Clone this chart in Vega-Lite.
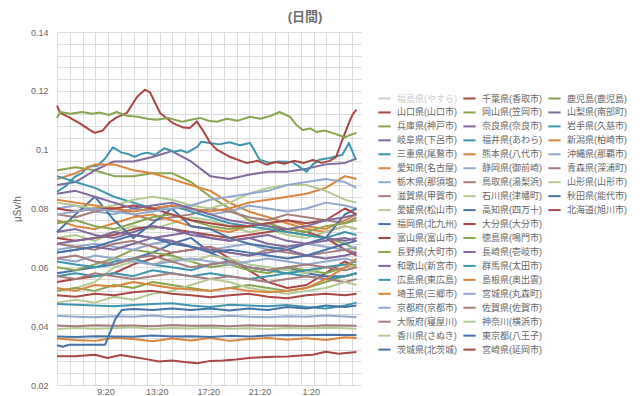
{
"$schema":"https://vega.github.io/schema/vega-lite/v6.json",
"autosize":{"type":"none"},
"padding":{"left":57,"top":32,"right":279,"bottom":11},
"width":304,"height":353,
"background":"white",
"title":{"text":"(日間)","anchor":"middle","frame":"group","dx":96,"offset":4,"fontSize":13,"fontWeight":"bold","color":"#6e6e6e"},
"config":{"view":{"stroke":null},"font":"Liberation Sans, Noto Sans CJK JP",
 "legend":{"symbolType":"stroke","symbolStrokeWidth":2,"symbolSize":150,"labelFontSize":9,"labelColor":"#666666","rowPadding":0.95,"labelOffset":5,"padding":0,"title":null}},
"datasets":{
"names":[{"k":0,"s":"福島県(やすら)"},{"k":1,"s":"山口県(山口市)"},{"k":2,"s":"兵庫県(神戸市)"},{"k":3,"s":"岐阜県(下呂市)"},{"k":4,"s":"三重県(尾鷲市)"},{"k":5,"s":"愛知県(名古屋)"},{"k":6,"s":"栃木県(那須塩)"},{"k":7,"s":"滋賀県(甲賀市)"},{"k":8,"s":"愛媛県(松山市)"},{"k":9,"s":"福岡県(北九州)"},{"k":10,"s":"富山県(富山市)"},{"k":11,"s":"長野県(大町市)"},{"k":12,"s":"和歌山(新宮市)"},{"k":13,"s":"広島県(東広島)"},{"k":14,"s":"埼玉県(三郷市)"},{"k":15,"s":"京都府(京都市)"},{"k":16,"s":"大阪府(寝屋川)"},{"k":17,"s":"香川県(さぬき)"},{"k":18,"s":"茨城県(北茨城)"},{"k":19,"s":"千葉県(香取市)"},{"k":20,"s":"岡山県(笠岡市)"},{"k":21,"s":"奈良県(奈良市)"},{"k":22,"s":"福井県(あわら)"},{"k":23,"s":"熊本県(八代市)"},{"k":24,"s":"静岡県(御前崎)"},{"k":25,"s":"鳥取県(湯梨浜)"},{"k":26,"s":"石川県(津幡町)"},{"k":27,"s":"高知県(四万十)"},{"k":28,"s":"大分県(大分市)"},{"k":29,"s":"徳島県(鳴門市)"},{"k":30,"s":"長崎県(壱岐市)"},{"k":31,"s":"群馬県(太田市)"},{"k":32,"s":"島根県(奥出雲)"},{"k":33,"s":"宮城県(丸森町)"},{"k":34,"s":"佐賀県(佐賀市)"},{"k":35,"s":"神奈川(横浜市)"},{"k":36,"s":"東京都(八王子)"},{"k":37,"s":"宮崎県(延岡市)"},{"k":38,"s":"鹿児島(鹿児島)"},{"k":39,"s":"山梨県(南部町)"},{"k":40,"s":"岩手県(久慈市)"},{"k":41,"s":"新潟県(柏崎市)"},{"k":42,"s":"沖縄県(那覇市)"},{"k":43,"s":"青森県(深浦町)"},{"k":44,"s":"山形県(山形市)"},{"k":45,"s":"秋田県(能代市)"},{"k":46,"s":"北海道(旭川市)"}],
"d":[
{"k":1,"h":5.55,"v":0.055},{"k":1,"h":7,"v":0.056},{"k":1,"h":8.5,"v":0.057},{"k":1,"h":10,"v":0.058},{"k":1,"h":11.5,"v":0.061},{"k":1,"h":13,"v":0.063},{"k":1,"h":14.5,"v":0.065},{"k":1,"h":16,"v":0.066},{"k":1,"h":17.5,"v":0.067},{"k":1,"h":19,"v":0.063},{"k":1,"h":20.5,"v":0.059},{"k":1,"h":22,"v":0.055},{"k":1,"h":23.5,"v":0.053},{"k":1,"h":25,"v":0.054},{"k":1,"h":26.5,"v":0.058},{"k":1,"h":28,"v":0.062},{"k":1,"h":28.9,"v":0.060},
{"k":2,"h":5.55,"v":0.093},{"k":2,"h":7,"v":0.094},{"k":2,"h":8.5,"v":0.093},{"k":2,"h":10,"v":0.091},{"k":2,"h":11.5,"v":0.091},{"k":2,"h":13,"v":0.092},{"k":2,"h":14.5,"v":0.092},{"k":2,"h":16,"v":0.089},{"k":2,"h":17.5,"v":0.084},{"k":2,"h":19,"v":0.080},{"k":2,"h":20.5,"v":0.076},{"k":2,"h":22,"v":0.074},{"k":2,"h":23.5,"v":0.072},{"k":2,"h":25,"v":0.071},{"k":2,"h":26.5,"v":0.070},{"k":2,"h":28,"v":0.068},{"k":2,"h":28.9,"v":0.066},
{"k":3,"h":5.55,"v":0.088},{"k":3,"h":7,"v":0.089},{"k":3,"h":8.5,"v":0.093},{"k":3,"h":10,"v":0.096},{"k":3,"h":11.5,"v":0.096},{"k":3,"h":13,"v":0.0975},{"k":3,"h":14.5,"v":0.0995},{"k":3,"h":16,"v":0.096},{"k":3,"h":17.5,"v":0.091},{"k":3,"h":19,"v":0.090},{"k":3,"h":20.5,"v":0.0915},{"k":3,"h":22,"v":0.0925},{"k":3,"h":23.5,"v":0.0925},{"k":3,"h":25,"v":0.0935},{"k":3,"h":26.5,"v":0.095},{"k":3,"h":28,"v":0.0955},{"k":3,"h":28.9,"v":0.097},
{"k":4,"h":5.55,"v":0.0857},{"k":4,"h":6.2,"v":0.0875},{"k":4,"h":6.93,"v":0.0908},{"k":4,"h":7.5,"v":0.092},{"k":4,"h":7.94,"v":0.0942},{"k":4,"h":8.7,"v":0.0945},{"k":4,"h":9.3,"v":0.097},{"k":4,"h":9.9,"v":0.1008},{"k":4,"h":10.6,"v":0.099},{"k":4,"h":11.1,"v":0.0985},{"k":4,"h":11.6,"v":0.0976},{"k":4,"h":12.1,"v":0.0985},{"k":4,"h":12.6,"v":0.099},{"k":4,"h":13.2,"v":0.0982},{"k":4,"h":13.9,"v":0.1005},{"k":4,"h":14.7,"v":0.0993},{"k":4,"h":15.2,"v":0.0998},{"k":4,"h":15.7,"v":0.099},{"k":4,"h":16.5,"v":0.101},{"k":4,"h":16.8,"v":0.1027},{"k":4,"h":17.45,"v":0.1023},{"k":4,"h":18.2,"v":0.1018},{"k":4,"h":19,"v":0.1025},{"k":4,"h":19.8,"v":0.1015},{"k":4,"h":20.6,"v":0.1023},{"k":4,"h":21.35,"v":0.0966},{"k":4,"h":22.1,"v":0.0955},{"k":4,"h":22.8,"v":0.096},{"k":4,"h":23.9,"v":0.0958},{"k":4,"h":24.5,"v":0.094},{"k":4,"h":25,"v":0.0925},{"k":4,"h":25.5,"v":0.095},{"k":4,"h":26,"v":0.0966},{"k":4,"h":26.8,"v":0.0972},{"k":4,"h":27.8,"v":0.0983},{"k":4,"h":28.3,"v":0.1023},{"k":4,"h":28.85,"v":0.0966},
{"k":5,"h":5.55,"v":0.090},{"k":5,"h":7,"v":0.092},{"k":5,"h":8.5,"v":0.095},{"k":5,"h":10,"v":0.095},{"k":5,"h":11.5,"v":0.093},{"k":5,"h":13,"v":0.092},{"k":5,"h":14.5,"v":0.090},{"k":5,"h":16,"v":0.088},{"k":5,"h":17.5,"v":0.086},{"k":5,"h":19,"v":0.082},{"k":5,"h":20.5,"v":0.079},{"k":5,"h":22,"v":0.077},{"k":5,"h":23.5,"v":0.075},{"k":5,"h":25,"v":0.073},{"k":5,"h":26.5,"v":0.072},{"k":5,"h":28,"v":0.074},{"k":5,"h":28.9,"v":0.073},
{"k":6,"h":5.55,"v":0.080},{"k":6,"h":7,"v":0.081},{"k":6,"h":8.5,"v":0.079},{"k":6,"h":10,"v":0.078},{"k":6,"h":11.5,"v":0.080},{"k":6,"h":13,"v":0.079},{"k":6,"h":14.5,"v":0.081},{"k":6,"h":16,"v":0.080},{"k":6,"h":17.5,"v":0.078},{"k":6,"h":19,"v":0.079},{"k":6,"h":20.5,"v":0.081},{"k":6,"h":22,"v":0.080},{"k":6,"h":23.5,"v":0.079},{"k":6,"h":25,"v":0.080},{"k":6,"h":26.5,"v":0.082},{"k":6,"h":28,"v":0.081},{"k":6,"h":28.9,"v":0.080},
{"k":7,"h":5.55,"v":0.078},{"k":7,"h":7,"v":0.077},{"k":7,"h":8.5,"v":0.079},{"k":7,"h":10,"v":0.080},{"k":7,"h":11.5,"v":0.078},{"k":7,"h":13,"v":0.076},{"k":7,"h":14.5,"v":0.077},{"k":7,"h":16,"v":0.078},{"k":7,"h":17.5,"v":0.080},{"k":7,"h":19,"v":0.079},{"k":7,"h":20.5,"v":0.077},{"k":7,"h":22,"v":0.076},{"k":7,"h":23.5,"v":0.078},{"k":7,"h":25,"v":0.077},{"k":7,"h":26.5,"v":0.076},{"k":7,"h":28,"v":0.075},{"k":7,"h":28.9,"v":0.077},
{"k":8,"h":5.55,"v":0.070},{"k":8,"h":7,"v":0.071},{"k":8,"h":8.5,"v":0.069},{"k":8,"h":10,"v":0.072},{"k":8,"h":11.5,"v":0.074},{"k":8,"h":13,"v":0.073},{"k":8,"h":14.5,"v":0.075},{"k":8,"h":16,"v":0.077},{"k":8,"h":17.5,"v":0.076},{"k":8,"h":19,"v":0.074},{"k":8,"h":20.5,"v":0.072},{"k":8,"h":22,"v":0.073},{"k":8,"h":23.5,"v":0.071},{"k":8,"h":25,"v":0.070},{"k":8,"h":26.5,"v":0.072},{"k":8,"h":28,"v":0.074},{"k":8,"h":28.9,"v":0.073},
{"k":9,"h":5.55,"v":0.058},{"k":9,"h":7,"v":0.059},{"k":9,"h":8.5,"v":0.060},{"k":9,"h":10,"v":0.061},{"k":9,"h":11.5,"v":0.063},{"k":9,"h":13,"v":0.065},{"k":9,"h":14.5,"v":0.068},{"k":9,"h":16,"v":0.070},{"k":9,"h":17.5,"v":0.065},{"k":9,"h":19,"v":0.062},{"k":9,"h":20.5,"v":0.060},{"k":9,"h":22,"v":0.059},{"k":9,"h":23.5,"v":0.060},{"k":9,"h":25,"v":0.058},{"k":9,"h":26.5,"v":0.057},{"k":9,"h":28,"v":0.057},{"k":9,"h":28.9,"v":0.058},
{"k":10,"h":5.55,"v":0.070},{"k":10,"h":7,"v":0.069},{"k":10,"h":8.5,"v":0.070},{"k":10,"h":10,"v":0.071},{"k":10,"h":11.5,"v":0.073},{"k":10,"h":13,"v":0.074},{"k":10,"h":14.5,"v":0.073},{"k":10,"h":16,"v":0.072},{"k":10,"h":17.5,"v":0.071},{"k":10,"h":19,"v":0.070},{"k":10,"h":20.5,"v":0.071},{"k":10,"h":22,"v":0.072},{"k":10,"h":23.5,"v":0.073},{"k":10,"h":25,"v":0.072},{"k":10,"h":26.5,"v":0.070},{"k":10,"h":28,"v":0.066},{"k":10,"h":28.9,"v":0.064},
{"k":11,"h":5.55,"v":0.060},{"k":11,"h":7,"v":0.059},{"k":11,"h":8.5,"v":0.061},{"k":11,"h":10,"v":0.063},{"k":11,"h":11.5,"v":0.066},{"k":11,"h":13,"v":0.065},{"k":11,"h":14.5,"v":0.064},{"k":11,"h":16,"v":0.062},{"k":11,"h":17.5,"v":0.060},{"k":11,"h":19,"v":0.061},{"k":11,"h":20.5,"v":0.059},{"k":11,"h":22,"v":0.058},{"k":11,"h":23.5,"v":0.060},{"k":11,"h":25,"v":0.059},{"k":11,"h":26.5,"v":0.058},{"k":11,"h":28,"v":0.060},{"k":11,"h":28.9,"v":0.061},
{"k":12,"h":5.55,"v":0.072},{"k":12,"h":7,"v":0.073},{"k":12,"h":8.5,"v":0.071},{"k":12,"h":10,"v":0.070},{"k":12,"h":11.5,"v":0.072},{"k":12,"h":13,"v":0.074},{"k":12,"h":14.5,"v":0.073},{"k":12,"h":16,"v":0.071},{"k":12,"h":17.5,"v":0.070},{"k":12,"h":19,"v":0.069},{"k":12,"h":20.5,"v":0.070},{"k":12,"h":22,"v":0.071},{"k":12,"h":23.5,"v":0.069},{"k":12,"h":25,"v":0.068},{"k":12,"h":26.5,"v":0.070},{"k":12,"h":28,"v":0.069},{"k":12,"h":28.9,"v":0.070},
{"k":13,"h":5.55,"v":0.091},{"k":13,"h":7,"v":0.089},{"k":13,"h":8.5,"v":0.087},{"k":13,"h":10,"v":0.084},{"k":13,"h":11.5,"v":0.082},{"k":13,"h":13,"v":0.080},{"k":13,"h":14.5,"v":0.081},{"k":13,"h":16,"v":0.079},{"k":13,"h":17.5,"v":0.077},{"k":13,"h":19,"v":0.075},{"k":13,"h":20.5,"v":0.074},{"k":13,"h":22,"v":0.073},{"k":13,"h":23.5,"v":0.072},{"k":13,"h":25,"v":0.071},{"k":13,"h":26.5,"v":0.070},{"k":13,"h":28,"v":0.072},{"k":13,"h":28.9,"v":0.071},
{"k":14,"h":5.55,"v":0.076},{"k":14,"h":7,"v":0.074},{"k":14,"h":8.5,"v":0.073},{"k":14,"h":10,"v":0.075},{"k":14,"h":11.5,"v":0.077},{"k":14,"h":13,"v":0.078},{"k":14,"h":14.5,"v":0.076},{"k":14,"h":16,"v":0.074},{"k":14,"h":17.5,"v":0.073},{"k":14,"h":19,"v":0.072},{"k":14,"h":20.5,"v":0.074},{"k":14,"h":22,"v":0.075},{"k":14,"h":23.5,"v":0.076},{"k":14,"h":25,"v":0.074},{"k":14,"h":26.5,"v":0.073},{"k":14,"h":28,"v":0.076},{"k":14,"h":28.9,"v":0.078},
{"k":15,"h":5.55,"v":0.066},{"k":15,"h":7,"v":0.067},{"k":15,"h":8.5,"v":0.068},{"k":15,"h":10,"v":0.067},{"k":15,"h":11.5,"v":0.066},{"k":15,"h":13,"v":0.068},{"k":15,"h":14.5,"v":0.069},{"k":15,"h":16,"v":0.067},{"k":15,"h":17.5,"v":0.066},{"k":15,"h":19,"v":0.067},{"k":15,"h":20.5,"v":0.068},{"k":15,"h":22,"v":0.066},{"k":15,"h":23.5,"v":0.067},{"k":15,"h":25,"v":0.068},{"k":15,"h":26.5,"v":0.067},{"k":15,"h":28,"v":0.066},{"k":15,"h":28.9,"v":0.067},
{"k":16,"h":5.55,"v":0.068},{"k":16,"h":7,"v":0.067},{"k":16,"h":8.5,"v":0.066},{"k":16,"h":10,"v":0.068},{"k":16,"h":11.5,"v":0.069},{"k":16,"h":13,"v":0.067},{"k":16,"h":14.5,"v":0.065},{"k":16,"h":16,"v":0.066},{"k":16,"h":17.5,"v":0.067},{"k":16,"h":19,"v":0.065},{"k":16,"h":20.5,"v":0.064},{"k":16,"h":22,"v":0.066},{"k":16,"h":23.5,"v":0.065},{"k":16,"h":25,"v":0.064},{"k":16,"h":26.5,"v":0.065},{"k":16,"h":28,"v":0.066},{"k":16,"h":28.9,"v":0.065},
{"k":17,"h":5.55,"v":0.052},{"k":17,"h":7,"v":0.053},{"k":17,"h":8.5,"v":0.055},{"k":17,"h":10,"v":0.060},{"k":17,"h":11.5,"v":0.062},{"k":17,"h":13,"v":0.061},{"k":17,"h":14.5,"v":0.063},{"k":17,"h":16,"v":0.062},{"k":17,"h":17.5,"v":0.064},{"k":17,"h":19,"v":0.063},{"k":17,"h":20.5,"v":0.061},{"k":17,"h":22,"v":0.060},{"k":17,"h":23.5,"v":0.059},{"k":17,"h":25,"v":0.058},{"k":17,"h":26.5,"v":0.060},{"k":17,"h":28,"v":0.061},{"k":17,"h":28.9,"v":0.060},
{"k":18,"h":5.55,"v":0.072},{"k":18,"h":7,"v":0.078},{"k":18,"h":8.5,"v":0.084},{"k":18,"h":10,"v":0.076},{"k":18,"h":11.5,"v":0.070},{"k":18,"h":13,"v":0.075},{"k":18,"h":14.5,"v":0.080},{"k":18,"h":16,"v":0.074},{"k":18,"h":17.5,"v":0.073},{"k":18,"h":19,"v":0.070},{"k":18,"h":20.5,"v":0.068},{"k":18,"h":22,"v":0.067},{"k":18,"h":23.5,"v":0.066},{"k":18,"h":25,"v":0.068},{"k":18,"h":26.5,"v":0.070},{"k":18,"h":28,"v":0.078},{"k":18,"h":28.9,"v":0.080},
{"k":19,"h":5.55,"v":0.115},{"k":19,"h":5.8,"v":0.1125},{"k":19,"h":6.5,"v":0.111},{"k":19,"h":7.3,"v":0.109},{"k":19,"h":8.1,"v":0.1067},{"k":19,"h":8.5,"v":0.1057},{"k":19,"h":9.1,"v":0.1065},{"k":19,"h":9.7,"v":0.1095},{"k":19,"h":10.2,"v":0.111},{"k":19,"h":11,"v":0.1125},{"k":19,"h":11.8,"v":0.118},{"k":19,"h":12.4,"v":0.1204},{"k":19,"h":12.8,"v":0.1195},{"k":19,"h":13.6,"v":0.1124},{"k":19,"h":14.6,"v":0.109},{"k":19,"h":15.4,"v":0.1075},{"k":19,"h":15.9,"v":0.1074},{"k":19,"h":16.45,"v":0.1096},{"k":19,"h":17,"v":0.106},{"k":19,"h":17.5,"v":0.1023},{"k":19,"h":18,"v":0.100},{"k":19,"h":19,"v":0.0976},{"k":19,"h":20.3,"v":0.0955},{"k":19,"h":21.2,"v":0.0962},{"k":19,"h":21.9,"v":0.0949},{"k":19,"h":22.6,"v":0.0958},{"k":19,"h":23.3,"v":0.0952},{"k":19,"h":24,"v":0.0962},{"k":19,"h":24.8,"v":0.0955},{"k":19,"h":25.5,"v":0.0965},{"k":19,"h":26.2,"v":0.0955},{"k":19,"h":26.8,"v":0.0962},{"k":19,"h":27.3,"v":0.0975},{"k":19,"h":27.8,"v":0.1033},{"k":19,"h":28.3,"v":0.109},{"k":19,"h":28.6,"v":0.112},{"k":19,"h":28.9,"v":0.1136},
{"k":20,"h":5.55,"v":0.075},{"k":20,"h":7,"v":0.076},{"k":20,"h":8.5,"v":0.074},{"k":20,"h":10,"v":0.073},{"k":20,"h":11.5,"v":0.075},{"k":20,"h":13,"v":0.077},{"k":20,"h":14.5,"v":0.078},{"k":20,"h":16,"v":0.076},{"k":20,"h":17.5,"v":0.074},{"k":20,"h":19,"v":0.073},{"k":20,"h":20.5,"v":0.074},{"k":20,"h":22,"v":0.075},{"k":20,"h":23.5,"v":0.073},{"k":20,"h":25,"v":0.072},{"k":20,"h":26.5,"v":0.074},{"k":20,"h":28,"v":0.075},{"k":20,"h":28.9,"v":0.076},
{"k":21,"h":5.55,"v":0.065},{"k":21,"h":7,"v":0.066},{"k":21,"h":8.5,"v":0.067},{"k":21,"h":10,"v":0.066},{"k":21,"h":11.5,"v":0.068},{"k":21,"h":13,"v":0.070},{"k":21,"h":14.5,"v":0.069},{"k":21,"h":16,"v":0.067},{"k":21,"h":17.5,"v":0.066},{"k":21,"h":19,"v":0.065},{"k":21,"h":20.5,"v":0.064},{"k":21,"h":22,"v":0.065},{"k":21,"h":23.5,"v":0.066},{"k":21,"h":25,"v":0.064},{"k":21,"h":26.5,"v":0.063},{"k":21,"h":28,"v":0.064},{"k":21,"h":28.9,"v":0.065},
{"k":22,"h":5.55,"v":0.062},{"k":22,"h":7,"v":0.061},{"k":22,"h":8.5,"v":0.060},{"k":22,"h":10,"v":0.062},{"k":22,"h":11.5,"v":0.063},{"k":22,"h":13,"v":0.061},{"k":22,"h":14.5,"v":0.060},{"k":22,"h":16,"v":0.059},{"k":22,"h":17.5,"v":0.061},{"k":22,"h":19,"v":0.062},{"k":22,"h":20.5,"v":0.060},{"k":22,"h":22,"v":0.059},{"k":22,"h":23.5,"v":0.058},{"k":22,"h":25,"v":0.059},{"k":22,"h":26.5,"v":0.060},{"k":22,"h":28,"v":0.061},{"k":22,"h":28.9,"v":0.062},
{"k":23,"h":5.55,"v":0.083},{"k":23,"h":7,"v":0.082},{"k":23,"h":8.5,"v":0.081},{"k":23,"h":10,"v":0.080},{"k":23,"h":11.5,"v":0.079},{"k":23,"h":13,"v":0.080},{"k":23,"h":14.5,"v":0.081},{"k":23,"h":16,"v":0.080},{"k":23,"h":17.5,"v":0.079},{"k":23,"h":19,"v":0.080},{"k":23,"h":20.5,"v":0.082},{"k":23,"h":22,"v":0.083},{"k":23,"h":23.5,"v":0.084},{"k":23,"h":25,"v":0.085},{"k":23,"h":26.5,"v":0.087},{"k":23,"h":28,"v":0.091},{"k":23,"h":28.9,"v":0.090},
{"k":24,"h":5.55,"v":0.063},{"k":24,"h":7,"v":0.062},{"k":24,"h":8.5,"v":0.064},{"k":24,"h":10,"v":0.063},{"k":24,"h":11.5,"v":0.062},{"k":24,"h":13,"v":0.061},{"k":24,"h":14.5,"v":0.062},{"k":24,"h":16,"v":0.063},{"k":24,"h":17.5,"v":0.062},{"k":24,"h":19,"v":0.061},{"k":24,"h":20.5,"v":0.062},{"k":24,"h":22,"v":0.063},{"k":24,"h":23.5,"v":0.062},{"k":24,"h":25,"v":0.061},{"k":24,"h":26.5,"v":0.062},{"k":24,"h":28,"v":0.063},{"k":24,"h":28.9,"v":0.062},
{"k":25,"h":5.55,"v":0.063},{"k":25,"h":7,"v":0.064},{"k":25,"h":8.5,"v":0.062},{"k":25,"h":10,"v":0.061},{"k":25,"h":11.5,"v":0.063},{"k":25,"h":13,"v":0.064},{"k":25,"h":14.5,"v":0.062},{"k":25,"h":16,"v":0.060},{"k":25,"h":17.5,"v":0.061},{"k":25,"h":19,"v":0.062},{"k":25,"h":20.5,"v":0.060},{"k":25,"h":22,"v":0.059},{"k":25,"h":23.5,"v":0.060},{"k":25,"h":25,"v":0.061},{"k":25,"h":26.5,"v":0.060},{"k":25,"h":28,"v":0.059},{"k":25,"h":28.9,"v":0.060},
{"k":26,"h":5.55,"v":0.082},{"k":26,"h":7,"v":0.081},{"k":26,"h":8.5,"v":0.080},{"k":26,"h":10,"v":0.081},{"k":26,"h":11.5,"v":0.083},{"k":26,"h":13,"v":0.084},{"k":26,"h":14.5,"v":0.083},{"k":26,"h":16,"v":0.081},{"k":26,"h":17.5,"v":0.080},{"k":26,"h":19,"v":0.082},{"k":26,"h":20.5,"v":0.085},{"k":26,"h":22,"v":0.087},{"k":26,"h":23.5,"v":0.088},{"k":26,"h":25,"v":0.088},{"k":26,"h":26.5,"v":0.086},{"k":26,"h":28,"v":0.083},{"k":26,"h":28.9,"v":0.082},
{"k":27,"h":5.55,"v":0.065},{"k":27,"h":7,"v":0.066},{"k":27,"h":8.5,"v":0.067},{"k":27,"h":10,"v":0.069},{"k":27,"h":11.5,"v":0.071},{"k":27,"h":13,"v":0.070},{"k":27,"h":14.5,"v":0.068},{"k":27,"h":16,"v":0.067},{"k":27,"h":17.5,"v":0.065},{"k":27,"h":19,"v":0.066},{"k":27,"h":20.5,"v":0.065},{"k":27,"h":22,"v":0.064},{"k":27,"h":23.5,"v":0.063},{"k":27,"h":25,"v":0.064},{"k":27,"h":26.5,"v":0.066},{"k":27,"h":28,"v":0.068},{"k":27,"h":28.9,"v":0.069},
{"k":28,"h":5.55,"v":0.080},{"k":28,"h":7,"v":0.079},{"k":28,"h":8.5,"v":0.080},{"k":28,"h":10,"v":0.080},{"k":28,"h":11.5,"v":0.081},{"k":28,"h":13,"v":0.080},{"k":28,"h":14.5,"v":0.078},{"k":28,"h":16,"v":0.076},{"k":28,"h":17.5,"v":0.075},{"k":28,"h":19,"v":0.074},{"k":28,"h":20.5,"v":0.074},{"k":28,"h":22,"v":0.075},{"k":28,"h":23.5,"v":0.076},{"k":28,"h":25,"v":0.075},{"k":28,"h":26.5,"v":0.076},{"k":28,"h":28,"v":0.080},{"k":28,"h":28.9,"v":0.078},
{"k":29,"h":5.55,"v":0.052},{"k":29,"h":7,"v":0.053},{"k":29,"h":8.5,"v":0.052},{"k":29,"h":10,"v":0.054},{"k":29,"h":11.5,"v":0.053},{"k":29,"h":13,"v":0.055},{"k":29,"h":14.5,"v":0.054},{"k":29,"h":16,"v":0.053},{"k":29,"h":17.5,"v":0.052},{"k":29,"h":19,"v":0.053},{"k":29,"h":20.5,"v":0.054},{"k":29,"h":22,"v":0.053},{"k":29,"h":23.5,"v":0.052},{"k":29,"h":25,"v":0.053},{"k":29,"h":26.5,"v":0.055},{"k":29,"h":28,"v":0.057},{"k":29,"h":28.9,"v":0.058},
{"k":30,"h":5.55,"v":0.068},{"k":30,"h":7,"v":0.069},{"k":30,"h":8.5,"v":0.070},{"k":30,"h":10,"v":0.072},{"k":30,"h":11.5,"v":0.071},{"k":30,"h":13,"v":0.070},{"k":30,"h":14.5,"v":0.071},{"k":30,"h":16,"v":0.072},{"k":30,"h":17.5,"v":0.070},{"k":30,"h":19,"v":0.069},{"k":30,"h":20.5,"v":0.070},{"k":30,"h":22,"v":0.068},{"k":30,"h":23.5,"v":0.067},{"k":30,"h":25,"v":0.068},{"k":30,"h":26.5,"v":0.069},{"k":30,"h":28,"v":0.070},{"k":30,"h":28.9,"v":0.069},
{"k":31,"h":5.55,"v":0.057},{"k":31,"h":7,"v":0.058},{"k":31,"h":8.5,"v":0.057},{"k":31,"h":10,"v":0.058},{"k":31,"h":11.5,"v":0.057},{"k":31,"h":13,"v":0.059},{"k":31,"h":14.5,"v":0.058},{"k":31,"h":16,"v":0.057},{"k":31,"h":17.5,"v":0.058},{"k":31,"h":19,"v":0.057},{"k":31,"h":20.5,"v":0.056},{"k":31,"h":22,"v":0.057},{"k":31,"h":23.5,"v":0.058},{"k":31,"h":25,"v":0.057},{"k":31,"h":26.5,"v":0.056},{"k":31,"h":28,"v":0.057},{"k":31,"h":28.9,"v":0.058},
{"k":32,"h":5.55,"v":0.0358},{"k":32,"h":7,"v":0.0353},{"k":32,"h":8.5,"v":0.035},{"k":32,"h":10,"v":0.036},{"k":32,"h":11.5,"v":0.0356},{"k":32,"h":13,"v":0.0349},{"k":32,"h":14.5,"v":0.0358},{"k":32,"h":16,"v":0.0351},{"k":32,"h":17.5,"v":0.036},{"k":32,"h":19,"v":0.035},{"k":32,"h":20.5,"v":0.0356},{"k":32,"h":22,"v":0.036},{"k":32,"h":23.5,"v":0.0354},{"k":32,"h":25,"v":0.0359},{"k":32,"h":26.5,"v":0.0353},{"k":32,"h":28,"v":0.0362},{"k":32,"h":28.9,"v":0.036},
{"k":33,"h":5.55,"v":0.078},{"k":33,"h":7,"v":0.079},{"k":33,"h":8.5,"v":0.080},{"k":33,"h":10,"v":0.079},{"k":33,"h":11.5,"v":0.078},{"k":33,"h":13,"v":0.079},{"k":33,"h":14.5,"v":0.080},{"k":33,"h":16,"v":0.081},{"k":33,"h":17.5,"v":0.083},{"k":33,"h":19,"v":0.084},{"k":33,"h":20.5,"v":0.085},{"k":33,"h":22,"v":0.086},{"k":33,"h":23.5,"v":0.088},{"k":33,"h":25,"v":0.089},{"k":33,"h":26.5,"v":0.090},{"k":33,"h":28,"v":0.089},{"k":33,"h":28.9,"v":0.087},
{"k":34,"h":5.55,"v":0.057},{"k":34,"h":7,"v":0.056},{"k":34,"h":8.5,"v":0.058},{"k":34,"h":10,"v":0.057},{"k":34,"h":11.5,"v":0.056},{"k":34,"h":13,"v":0.057},{"k":34,"h":14.5,"v":0.058},{"k":34,"h":16,"v":0.057},{"k":34,"h":17.5,"v":0.056},{"k":34,"h":19,"v":0.057},{"k":34,"h":20.5,"v":0.056},{"k":34,"h":22,"v":0.055},{"k":34,"h":23.5,"v":0.056},{"k":34,"h":25,"v":0.057},{"k":34,"h":26.5,"v":0.056},{"k":34,"h":28,"v":0.055},{"k":34,"h":28.9,"v":0.056},
{"k":35,"h":5.55,"v":0.048},{"k":35,"h":7,"v":0.049},{"k":35,"h":8.5,"v":0.048},{"k":35,"h":10,"v":0.050},{"k":35,"h":11.5,"v":0.049},{"k":35,"h":13,"v":0.051},{"k":35,"h":14.5,"v":0.052},{"k":35,"h":16,"v":0.054},{"k":35,"h":17.5,"v":0.056},{"k":35,"h":19,"v":0.055},{"k":35,"h":20.5,"v":0.053},{"k":35,"h":22,"v":0.052},{"k":35,"h":23.5,"v":0.051},{"k":35,"h":25,"v":0.052},{"k":35,"h":26.5,"v":0.053},{"k":35,"h":28,"v":0.055},{"k":35,"h":28.9,"v":0.054},
{"k":36,"h":5.55,"v":0.0365},{"k":36,"h":7,"v":0.0363},{"k":36,"h":8.5,"v":0.0366},{"k":36,"h":10,"v":0.0365},{"k":36,"h":11.5,"v":0.0364},{"k":36,"h":13,"v":0.0368},{"k":36,"h":14.5,"v":0.0365},{"k":36,"h":16,"v":0.0366},{"k":36,"h":17.5,"v":0.0363},{"k":36,"h":19,"v":0.0367},{"k":36,"h":20.5,"v":0.0365},{"k":36,"h":22,"v":0.0368},{"k":36,"h":23.5,"v":0.037},{"k":36,"h":25,"v":0.0369},{"k":36,"h":26.5,"v":0.0371},{"k":36,"h":28,"v":0.037},{"k":36,"h":28.9,"v":0.037},
{"k":37,"h":5.55,"v":0.0505},{"k":37,"h":7,"v":0.050},{"k":37,"h":8.5,"v":0.051},{"k":37,"h":10,"v":0.0505},{"k":37,"h":11.5,"v":0.0515},{"k":37,"h":13,"v":0.052},{"k":37,"h":14.5,"v":0.051},{"k":37,"h":16,"v":0.0505},{"k":37,"h":17.5,"v":0.0498},{"k":37,"h":19,"v":0.0505},{"k":37,"h":20.5,"v":0.051},{"k":37,"h":22,"v":0.050},{"k":37,"h":23.5,"v":0.0495},{"k":37,"h":25,"v":0.0505},{"k":37,"h":26.5,"v":0.051},{"k":37,"h":28,"v":0.0505},{"k":37,"h":28.9,"v":0.051},
{"k":38,"h":5.55,"v":0.1108},{"k":38,"h":5.8,"v":0.1128},{"k":38,"h":6.6,"v":0.1122},{"k":38,"h":7.5,"v":0.1128},{"k":38,"h":8.3,"v":0.1122},{"k":38,"h":8.9,"v":0.1126},{"k":38,"h":9.6,"v":0.1118},{"k":38,"h":10.2,"v":0.1128},{"k":38,"h":11,"v":0.1115},{"k":38,"h":11.8,"v":0.1112},{"k":38,"h":12.6,"v":0.1105},{"k":38,"h":13.3,"v":0.1102},{"k":38,"h":14.2,"v":0.1108},{"k":38,"h":15.3,"v":0.1095},{"k":38,"h":16,"v":0.1102},{"k":38,"h":16.7,"v":0.1108},{"k":38,"h":17.4,"v":0.1098},{"k":38,"h":18,"v":0.1095},{"k":38,"h":18.8,"v":0.1105},{"k":38,"h":19.6,"v":0.1098},{"k":38,"h":20.6,"v":0.1112},{"k":38,"h":21.4,"v":0.1105},{"k":38,"h":22.2,"v":0.1115},{"k":38,"h":22.9,"v":0.1128},{"k":38,"h":23.7,"v":0.1112},{"k":38,"h":24.2,"v":0.1085},{"k":38,"h":24.7,"v":0.1067},{"k":38,"h":25.3,"v":0.1072},{"k":38,"h":25.8,"v":0.106},{"k":38,"h":26.4,"v":0.1065},{"k":38,"h":27,"v":0.1057},{"k":38,"h":27.6,"v":0.1048},{"k":38,"h":28,"v":0.1042},{"k":38,"h":28.4,"v":0.105},{"k":38,"h":28.9,"v":0.1057},
{"k":39,"h":5.55,"v":0.085},{"k":39,"h":7,"v":0.086},{"k":39,"h":8.5,"v":0.084},{"k":39,"h":10,"v":0.082},{"k":39,"h":11.5,"v":0.080},{"k":39,"h":13,"v":0.081},{"k":39,"h":14.5,"v":0.082},{"k":39,"h":16,"v":0.080},{"k":39,"h":17.5,"v":0.078},{"k":39,"h":19,"v":0.076},{"k":39,"h":20.5,"v":0.075},{"k":39,"h":22,"v":0.074},{"k":39,"h":23.5,"v":0.073},{"k":39,"h":25,"v":0.074},{"k":39,"h":26.5,"v":0.076},{"k":39,"h":28,"v":0.077},{"k":39,"h":28.9,"v":0.078},
{"k":40,"h":5.55,"v":0.0475},{"k":40,"h":7,"v":0.0473},{"k":40,"h":8.5,"v":0.047},{"k":40,"h":10,"v":0.0468},{"k":40,"h":11.5,"v":0.0472},{"k":40,"h":13,"v":0.0475},{"k":40,"h":14.5,"v":0.0478},{"k":40,"h":16,"v":0.047},{"k":40,"h":17.5,"v":0.0465},{"k":40,"h":19,"v":0.0473},{"k":40,"h":20.5,"v":0.047},{"k":40,"h":22,"v":0.0468},{"k":40,"h":23.5,"v":0.0472},{"k":40,"h":25,"v":0.0465},{"k":40,"h":26.5,"v":0.046},{"k":40,"h":28,"v":0.047},{"k":40,"h":28.9,"v":0.048},
{"k":41,"h":5.55,"v":0.053},{"k":41,"h":7,"v":0.052},{"k":41,"h":8.5,"v":0.054},{"k":41,"h":10,"v":0.0535},{"k":41,"h":11.5,"v":0.055},{"k":41,"h":13,"v":0.054},{"k":41,"h":14.5,"v":0.053},{"k":41,"h":16,"v":0.0525},{"k":41,"h":17.5,"v":0.052},{"k":41,"h":19,"v":0.053},{"k":41,"h":20.5,"v":0.052},{"k":41,"h":22,"v":0.0515},{"k":41,"h":23.5,"v":0.052},{"k":41,"h":25,"v":0.053},{"k":41,"h":26.5,"v":0.056},{"k":41,"h":28,"v":0.060},{"k":41,"h":28.9,"v":0.063},
{"k":42,"h":5.55,"v":0.0435},{"k":42,"h":7,"v":0.0432},{"k":42,"h":8.5,"v":0.043},{"k":42,"h":10,"v":0.0434},{"k":42,"h":11.5,"v":0.0432},{"k":42,"h":13,"v":0.0436},{"k":42,"h":14.5,"v":0.043},{"k":42,"h":16,"v":0.0433},{"k":42,"h":17.5,"v":0.0431},{"k":42,"h":19,"v":0.0435},{"k":42,"h":20.5,"v":0.0432},{"k":42,"h":22,"v":0.043},{"k":42,"h":23.5,"v":0.0434},{"k":42,"h":25,"v":0.0432},{"k":42,"h":26.5,"v":0.0436},{"k":42,"h":28,"v":0.0433},{"k":42,"h":28.9,"v":0.043},
{"k":43,"h":5.55,"v":0.0402},{"k":43,"h":7,"v":0.040},{"k":43,"h":8.5,"v":0.0403},{"k":43,"h":10,"v":0.0401},{"k":43,"h":11.5,"v":0.0402},{"k":43,"h":13,"v":0.040},{"k":43,"h":14.5,"v":0.0404},{"k":43,"h":16,"v":0.0401},{"k":43,"h":17.5,"v":0.0402},{"k":43,"h":19,"v":0.040},{"k":43,"h":20.5,"v":0.0403},{"k":43,"h":22,"v":0.0401},{"k":43,"h":23.5,"v":0.0402},{"k":43,"h":25,"v":0.040},{"k":43,"h":26.5,"v":0.0403},{"k":43,"h":28,"v":0.0402},{"k":43,"h":28.9,"v":0.0401},
{"k":44,"h":5.55,"v":0.039},{"k":44,"h":7,"v":0.0394},{"k":44,"h":8.5,"v":0.0391},{"k":44,"h":10,"v":0.0393},{"k":44,"h":11.5,"v":0.0396},{"k":44,"h":13,"v":0.039},{"k":44,"h":14.5,"v":0.0394},{"k":44,"h":16,"v":0.0392},{"k":44,"h":17.5,"v":0.0395},{"k":44,"h":19,"v":0.0391},{"k":44,"h":20.5,"v":0.0393},{"k":44,"h":22,"v":0.039},{"k":44,"h":23.5,"v":0.0394},{"k":44,"h":25,"v":0.0392},{"k":44,"h":26.5,"v":0.0395},{"k":44,"h":28,"v":0.0393},{"k":44,"h":28.9,"v":0.0391},
{"k":45,"h":5.55,"v":0.0335},{"k":45,"h":6,"v":0.033},{"k":45,"h":6.5,"v":0.0337},{"k":45,"h":8,"v":0.0337},{"k":45,"h":9.3,"v":0.0337},{"k":45,"h":9.7,"v":0.038},{"k":45,"h":10.1,"v":0.0425},{"k":45,"h":10.6,"v":0.0455},{"k":45,"h":11.5,"v":0.0458},{"k":45,"h":13,"v":0.0455},{"k":45,"h":14.5,"v":0.046},{"k":45,"h":16,"v":0.0455},{"k":45,"h":17.5,"v":0.046},{"k":45,"h":19,"v":0.0453},{"k":45,"h":20.5,"v":0.046},{"k":45,"h":22,"v":0.0455},{"k":45,"h":23.5,"v":0.0465},{"k":45,"h":25,"v":0.046},{"k":45,"h":26.5,"v":0.047},{"k":45,"h":28,"v":0.0465},{"k":45,"h":28.9,"v":0.047},
{"k":46,"h":5.55,"v":0.0298},{"k":46,"h":7,"v":0.0298},{"k":46,"h":8.5,"v":0.0303},{"k":46,"h":9.5,"v":0.0292},{"k":46,"h":10.5,"v":0.0302},{"k":46,"h":11.5,"v":0.0295},{"k":46,"h":12.5,"v":0.0288},{"k":46,"h":13.5,"v":0.028},{"k":46,"h":14.5,"v":0.0283},{"k":46,"h":15.5,"v":0.0278},{"k":46,"h":16.5,"v":0.0274},{"k":46,"h":17.5,"v":0.0282},{"k":46,"h":18.5,"v":0.0283},{"k":46,"h":19.5,"v":0.0287},{"k":46,"h":20.5,"v":0.0292},{"k":46,"h":21.5,"v":0.0294},{"k":46,"h":22.5,"v":0.0296},{"k":46,"h":23.5,"v":0.0297},{"k":46,"h":24.5,"v":0.030},{"k":46,"h":25.5,"v":0.0303},{"k":46,"h":26.5,"v":0.0313},{"k":46,"h":27.5,"v":0.0306},{"k":46,"h":28.9,"v":0.0312}
]},
"data":{"name":"d"},
"transform":[{"lookup":"k","from":{"data":{"name":"names"},"key":"k","fields":["s"]}}],
"layer":[
{"transform":[{"filter":"datum.k <= 18"}],
 "mark":{"type":"line","strokeWidth":2,"strokeJoin":"round"},
 "encoding":{
  "x":{"field":"h","type":"quantitative","scale":{"domain":[5.55,29.25],"nice":false,"zero":false},
   "axis":{"orient":"bottom","values":[5.55,6.55,7.55,8.55,9.55,10.55,11.55,12.55,13.55,14.55,15.55,16.55,17.55,18.55,19.55,20.55,21.55,22.55,23.55,24.55,25.55,26.55,27.55,28.55],"labels":false,"ticks":false,"domain":false,"grid":true,"gridColor":"#dcdcdc","gridWidth":1,"title":null}},
  "y":{"field":"v","type":"quantitative","scale":{"domain":[0.02,0.14],"nice":false,"zero":false},
   "axis":{"values":[0.02,0.024,0.028,0.032,0.036,0.04,0.044,0.048,0.052,0.056,0.06,0.064,0.068,0.072,0.076,0.08,0.084,0.088,0.092,0.096,0.1,0.104,0.108,0.112,0.116,0.12,0.124,0.128,0.132,0.136,0.14],
    "labelExpr":"abs(datum.value*50 - round(datum.value*50)) < 0.01 ? format(datum.value, '.2~f') : ''",
    "ticks":false,"domain":false,"grid":true,"gridColor":"#dcdcdc","labelFontSize":9,"labelColor":"#666666","labelPadding":9,
    "title":"μSv/h","titleFontSize":10,"titleFontWeight":"normal","titleColor":"#666666","titlePadding":8}},
  "color":{"field":"s","type":"nominal",
   "scale":{"domain":["福島県(やすら)","山口県(山口市)","兵庫県(神戸市)","岐阜県(下呂市)","三重県(尾鷲市)","愛知県(名古屋)","栃木県(那須塩)","滋賀県(甲賀市)","愛媛県(松山市)","福岡県(北九州)","富山県(富山市)","長野県(大町市)","和歌山(新宮市)","広島県(東広島)","埼玉県(三郷市)","京都府(京都市)","大阪府(寝屋川)","香川県(さぬき)","茨城県(北茨城)"],
    "range":["#cccccc","#AA4643","#89A54E","#80699B","#3D96AE","#DB843D","#92A8CD","#A47D7C","#B5CA92","#4572A7","#AA4643","#89A54E","#80699B","#3D96AE","#DB843D","#92A8CD","#A47D7C","#B5CA92","#4572A7"]},
   "legend":{"orient":"none","legendX":320,"legendY":59,"labelColor":{"expr":"datum.value == '福島県(やすら)' ? '#cccccc' : '#666666'"}}}
 }},
{"transform":[{"filter":"datum.k >= 19 && datum.k <= 37"}],
 "mark":{"type":"line","strokeWidth":2,"strokeJoin":"round"},
 "encoding":{
  "x":{"field":"h","type":"quantitative","scale":{"domain":[5.55,29.25],"nice":false,"zero":false},
   "axis":{"orient":"bottom","values":[9.3333,13.3333,17.3333,21.3333,25.3333],"labelExpr":"(floor(datum.value) % 24) + ':20'","grid":false,"ticks":false,"domain":false,"labelFontSize":9,"labelColor":"#666666","labelPadding":2,"title":null}},
  "y":{"field":"v","type":"quantitative","axis":null},
  "color":{"field":"s","type":"nominal",
   "scale":{"domain":["千葉県(香取市)","岡山県(笠岡市)","奈良県(奈良市)","福井県(あわら)","熊本県(八代市)","静岡県(御前崎)","鳥取県(湯梨浜)","石川県(津幡町)","高知県(四万十)","大分県(大分市)","徳島県(鳴門市)","長崎県(壱岐市)","群馬県(太田市)","島根県(奥出雲)","宮城県(丸森町)","佐賀県(佐賀市)","神奈川(横浜市)","東京都(八王子)","宮崎県(延岡市)"],
    "range":["#AA4643","#89A54E","#80699B","#3D96AE","#DB843D","#92A8CD","#A47D7C","#B5CA92","#4572A7","#AA4643","#89A54E","#80699B","#3D96AE","#DB843D","#92A8CD","#A47D7C","#B5CA92","#4572A7","#AA4643"]},
   "legend":{"orient":"none","legendX":405,"legendY":59}}
 }},
{"transform":[{"filter":"datum.k >= 38"}],
 "mark":{"type":"line","strokeWidth":2,"strokeJoin":"round"},
 "encoding":{
  "x":{"field":"h","type":"quantitative","axis":null},
  "y":{"field":"v","type":"quantitative","axis":null},
  "color":{"field":"s","type":"nominal",
   "scale":{"domain":["鹿児島(鹿児島)","山梨県(南部町)","岩手県(久慈市)","新潟県(柏崎市)","沖縄県(那覇市)","青森県(深浦町)","山形県(山形市)","秋田県(能代市)","北海道(旭川市)"],
    "range":["#89A54E","#80699B","#3D96AE","#DB843D","#92A8CD","#A47D7C","#B5CA92","#4572A7","#AA4643"]},
   "legend":{"orient":"none","legendX":490,"legendY":59}}
 }}
],
"resolve":{"scale":{"color":"independent"},"axis":{"x":"independent","y":"independent"},"legend":{"color":"independent"}}
}
